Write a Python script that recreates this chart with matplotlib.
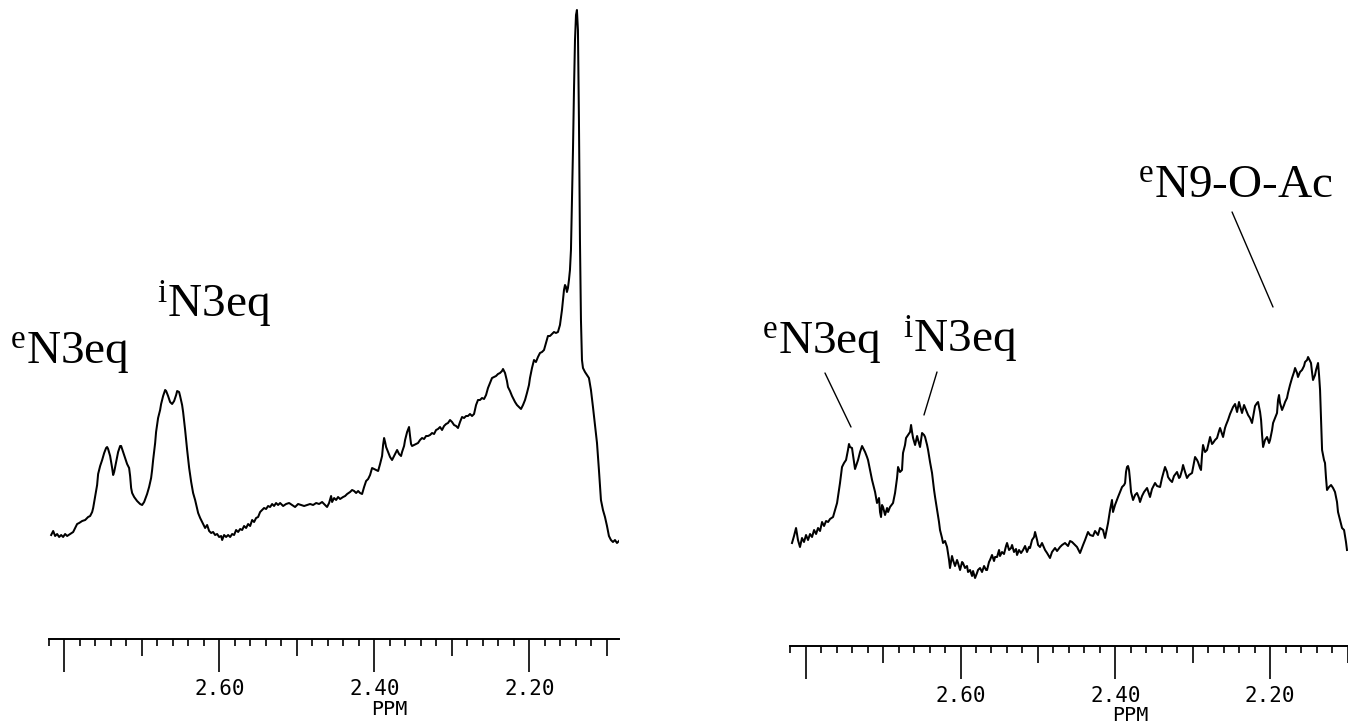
import matplotlib
matplotlib.use("Agg")
import matplotlib.pyplot as plt
from matplotlib.ticker import FixedLocator, FixedFormatter

plt.rcParams['mathtext.fontset'] = 'custom'
plt.rcParams['mathtext.rm'] = 'Liberation Serif'
plt.rcParams['mathtext.it'] = 'Liberation Serif:italic'
plt.rcParams['mathtext.bf'] = 'Liberation Serif:bold'
plt.rcParams['font.family'] = ['Liberation Serif', 'DejaVu Serif']

# ---------------- data: left spectrum (chemical shift ppm, intensity a.u.) ----------------
left_ppm = [
    2.8172, 2.8146, 2.8121, 2.8095, 2.8069, 2.8043, 2.8018, 2.7992, 2.7966, 2.7927,
    2.7888, 2.7863, 2.7837, 2.7811, 2.7772, 2.7733, 2.7695, 2.7669, 2.7643, 2.7630,
    2.7605, 2.7579, 2.7566, 2.7540, 2.7514, 2.7488, 2.7463, 2.7450, 2.7437, 2.7411,
    2.7385, 2.7372, 2.7359, 2.7334, 2.7308, 2.7282, 2.7269, 2.7243, 2.7217, 2.7192,
    2.7166, 2.7153, 2.7140, 2.7127, 2.7101, 2.7063, 2.7024, 2.6998, 2.6972, 2.6934,
    2.6908, 2.6882, 2.6869, 2.6856, 2.6830, 2.6818, 2.6792, 2.6766, 2.6753, 2.6727,
    2.6701, 2.6688, 2.6663, 2.6637, 2.6611, 2.6585, 2.6559, 2.6546, 2.6521, 2.6508,
    2.6482, 2.6469, 2.6443, 2.6417, 2.6391, 2.6365, 2.6340, 2.6314, 2.6288, 2.6275,
    2.6249, 2.6223, 2.6198, 2.6185, 2.6159, 2.6133, 2.6107, 2.6082, 2.6056, 2.6030,
    2.6004, 2.5978, 2.5965, 2.5940, 2.5914, 2.5888, 2.5862, 2.5836, 2.5811, 2.5785,
    2.5759, 2.5733, 2.5707, 2.5682, 2.5656, 2.5630, 2.5604, 2.5578, 2.5553, 2.5527,
    2.5501, 2.5475, 2.5449, 2.5424, 2.5398, 2.5372, 2.5346, 2.5320, 2.5295, 2.5269,
    2.5243, 2.5217, 2.5178, 2.5140, 2.5101, 2.5062, 2.5024, 2.4985, 2.4946, 2.4907,
    2.4869, 2.4830, 2.4791, 2.4752, 2.4714, 2.4675, 2.4636, 2.4611, 2.4585, 2.4559,
    2.4546, 2.4520, 2.4494, 2.4469, 2.4443, 2.4404, 2.4378, 2.4352, 2.4314, 2.4288,
    2.4262, 2.4236, 2.4210, 2.4185, 2.4159, 2.4133, 2.4107, 2.4081, 2.4056, 2.4030,
    2.4004, 2.3978, 2.3952, 2.3927, 2.3901, 2.3888, 2.3875, 2.3862, 2.3849, 2.3823,
    2.3798, 2.3772, 2.3746, 2.3720, 2.3707, 2.3682, 2.3656, 2.3643, 2.3617, 2.3604,
    2.3578, 2.3553, 2.3540, 2.3527, 2.3514, 2.3488, 2.3462, 2.3437, 2.3411, 2.3385,
    2.3359, 2.3333, 2.3308, 2.3282, 2.3256, 2.3230, 2.3204, 2.3179, 2.3153, 2.3127,
    2.3101, 2.3075, 2.3050, 2.3024, 2.2998, 2.2972, 2.2946, 2.2921, 2.2895, 2.2869,
    2.2843, 2.2817, 2.2792, 2.2766, 2.2740, 2.2714, 2.2688, 2.2663, 2.2637, 2.2611,
    2.2585, 2.2559, 2.2534, 2.2508, 2.2482, 2.2456, 2.2430, 2.2405, 2.2379, 2.2353,
    2.2340, 2.2314, 2.2289, 2.2276, 2.2250, 2.2224, 2.2211, 2.2185, 2.2160, 2.2134,
    2.2108, 2.2082, 2.2056, 2.2031, 2.2005, 2.1992, 2.1966, 2.1940, 2.1915, 2.1889,
    2.1863, 2.1837, 2.1811, 2.1786, 2.1760, 2.1734, 2.1708, 2.1682, 2.1657, 2.1631,
    2.1605, 2.1579, 2.1566, 2.1553, 2.1540, 2.1527, 2.1515, 2.1502, 2.1489, 2.1476,
    2.1463, 2.1450, 2.1437, 2.1424, 2.1411, 2.1398, 2.1386, 2.1373, 2.1360, 2.1347,
    2.1334, 2.1321, 2.1308, 2.1282, 2.1256, 2.1231, 2.1205, 2.1179, 2.1153, 2.1127,
    2.1102, 2.1076, 2.1050, 2.1024, 2.0998, 2.0973, 2.0947, 2.0921, 2.0895, 2.0869,
    2.0843,
]
left_int = [
    10, 14, 9, 11, 8, 10, 8, 11, 9, 11,
    13, 17, 21, 22, 24, 25, 28, 29, 33, 37,
    48, 60, 71, 79, 85, 92, 97, 98, 96, 89,
    77, 70, 73, 83, 93, 99, 99, 93, 87, 81,
    77, 69, 57, 52, 48, 44, 41, 40, 43, 51,
    58, 67, 75, 85, 102, 113, 127, 135, 141, 149,
    155, 154, 149, 143, 141, 144, 150, 154, 153, 149,
    140, 133, 115, 95, 77, 63, 52, 45, 36, 32,
    27, 23, 19, 17, 20, 14, 12, 13, 10, 11,
    8, 9, 5, 10, 8, 10, 8, 11, 10, 15,
    13, 16, 15, 19, 17, 21, 19, 25, 23, 27,
    28, 33, 35, 37, 36, 39, 38, 41, 39, 42,
    40, 42, 39, 41, 42, 40, 38, 41, 40, 39,
    40, 41, 40, 42, 41, 43, 40, 38, 42, 49,
    43, 47, 45, 48, 46, 48, 49, 51, 53, 55,
    54, 52, 54, 52, 51, 58, 64, 66, 70, 77,
    76, 75, 74, 81, 89, 100, 107, 103, 98, 93,
    88, 85, 89, 93, 95, 91, 89, 93, 99, 105,
    113, 118, 109, 101, 99, 100, 101, 102, 105, 107,
    106, 109, 109, 110, 112, 111, 115, 116, 118, 115,
    119, 121, 122, 125, 123, 120, 119, 117, 123, 128,
    127, 129, 129, 131, 129, 131, 140, 145, 145, 147,
    146, 150, 157, 162, 167, 168, 169, 171, 172, 174,
    176, 172, 164, 158, 154, 149, 147, 143, 140, 138,
    136, 140, 145, 152, 160, 167, 177, 185, 183, 188,
    192, 193, 195, 202, 209, 209, 211, 213, 212, 213,
    220, 235, 245, 255, 260, 258, 253, 257, 265, 275,
    295, 345, 395, 455, 505, 530, 535, 515, 425, 305,
    225, 185, 177, 173, 170, 167, 155, 138, 120, 102,
    75, 45, 35, 28, 19, 9, 5, 3, 5, 2,
    4,
]

# ---------------- data: right spectrum ----------------
right_ppm = [
    2.8177, 2.8151, 2.8125, 2.8100, 2.8074, 2.8048, 2.8022, 2.7996, 2.7970, 2.7944,
    2.7918, 2.7892, 2.7866, 2.7841, 2.7815, 2.7789, 2.7763, 2.7737, 2.7711, 2.7686,
    2.7647, 2.7621, 2.7595, 2.7570, 2.7557, 2.7531, 2.7505, 2.7479, 2.7454, 2.7441,
    2.7428, 2.7402, 2.7389, 2.7363, 2.7350, 2.7324, 2.7298, 2.7272, 2.7246, 2.7233,
    2.7208, 2.7195, 2.7169, 2.7143, 2.7117, 2.7104, 2.7079, 2.7053, 2.7040, 2.7027,
    2.7014, 2.7001, 2.6975, 2.6949, 2.6936, 2.6911, 2.6872, 2.6846, 2.6820, 2.6807,
    2.6782, 2.6756, 2.6743, 2.6717, 2.6704, 2.6678, 2.6652, 2.6639, 2.6626, 2.6613,
    2.6587, 2.6561, 2.6548, 2.6523, 2.6497, 2.6471, 2.6458, 2.6432, 2.6419, 2.6394,
    2.6368, 2.6342, 2.6329, 2.6303, 2.6278, 2.6265, 2.6239, 2.6226, 2.6200, 2.6174,
    2.6148, 2.6136, 2.6110, 2.6097, 2.6071, 2.6045, 2.6032, 2.6006, 2.5980, 2.5968,
    2.5942, 2.5916, 2.5903, 2.5877, 2.5851, 2.5838, 2.5812, 2.5787, 2.5774, 2.5748,
    2.5722, 2.5696, 2.5670, 2.5657, 2.5632, 2.5619, 2.5593, 2.5567, 2.5554, 2.5528,
    2.5502, 2.5490, 2.5464, 2.5438, 2.5412, 2.5399, 2.5373, 2.5347, 2.5334, 2.5309,
    2.5283, 2.5270, 2.5244, 2.5218, 2.5192, 2.5166, 2.5141, 2.5115, 2.5102, 2.5076,
    2.5050, 2.5037, 2.5011, 2.4998, 2.4973, 2.4947, 2.4908, 2.4882, 2.4844, 2.4818,
    2.4779, 2.4753, 2.4714, 2.4688, 2.4650, 2.4611, 2.4585, 2.4559, 2.4521, 2.4495,
    2.4456, 2.4417, 2.4391, 2.4353, 2.4327, 2.4288, 2.4262, 2.4224, 2.4198, 2.4159,
    2.4133, 2.4107, 2.4094, 2.4068, 2.4043, 2.4030, 2.4004, 2.3965, 2.3939, 2.3913,
    2.3887, 2.3874, 2.3862, 2.3849, 2.3836, 2.3823, 2.3810, 2.3797, 2.3771, 2.3745,
    2.3720, 2.3694, 2.3681, 2.3655, 2.3629, 2.3590, 2.3565, 2.3552, 2.3526, 2.3487,
    2.3461, 2.3422, 2.3397, 2.3358, 2.3332, 2.3319, 2.3293, 2.3267, 2.3242, 2.3203,
    2.3177, 2.3164, 2.3138, 2.3125, 2.3099, 2.3074, 2.3048, 2.3009, 2.2983, 2.2970,
    2.2944, 2.2932, 2.2906, 2.2893, 2.2880, 2.2867, 2.2841, 2.2815, 2.2789, 2.2776,
    2.2751, 2.2738, 2.2712, 2.2686, 2.2660, 2.2647, 2.2621, 2.2608, 2.2583, 2.2570,
    2.2544, 2.2518, 2.2479, 2.2453, 2.2427, 2.2402, 2.2389, 2.2363, 2.2337, 2.2311,
    2.2285, 2.2260, 2.2234, 2.2208, 2.2195, 2.2169, 2.2156, 2.2130, 2.2117, 2.2104,
    2.2091, 2.2066, 2.2040, 2.2014, 2.2001, 2.1975, 2.1962, 2.1936, 2.1911, 2.1898,
    2.1885, 2.1872, 2.1846, 2.1820, 2.1807, 2.1782, 2.1769, 2.1743, 2.1717, 2.1691,
    2.1678, 2.1652, 2.1640, 2.1614, 2.1588, 2.1562, 2.1549, 2.1523, 2.1510, 2.1484,
    2.1472, 2.1459, 2.1446, 2.1420, 2.1407, 2.1381, 2.1368, 2.1355, 2.1342, 2.1329,
    2.1304, 2.1291, 2.1278, 2.1265, 2.1239, 2.1213, 2.1187, 2.1162, 2.1136, 2.1123,
    2.1097, 2.1071, 2.1045, 2.1020, 2.1007,
]
right_int = [
    37, 44, 52, 40, 33, 42, 38, 45, 40, 46,
    43, 50, 46, 52, 49, 58, 54, 59, 58, 61,
    63, 70, 77, 90, 97, 113, 117, 120, 130, 136,
    133, 132, 125, 111, 114, 120, 128, 134, 130, 128,
    123, 120, 110, 100, 92, 88, 77, 82, 68, 63,
    75, 73, 65, 72, 68, 73, 77, 87, 102, 113,
    108, 110, 127, 135, 142, 145, 148, 155, 148, 142,
    135, 144, 140, 133, 147, 145, 143, 135, 130, 118,
    107, 90, 83, 70, 58, 50, 42, 37, 39, 33,
    20, 12, 24, 20, 14, 20, 17, 10, 18, 17,
    12, 14, 8, 10, 4, 9, 2, 7, 10, 12,
    8, 14, 10, 10, 18, 20, 25, 19, 23, 23,
    30, 24, 28, 26, 34, 37, 30, 32, 35, 28,
    31, 25, 30, 27, 30, 34, 28, 33, 32, 40,
    43, 48, 40, 35, 33, 37, 30, 27, 22, 28,
    32, 29, 33, 35, 37, 34, 39, 38, 35, 33,
    27, 35, 40, 48, 45, 44, 49, 45, 52, 50,
    42, 52, 57, 70, 80, 68, 75, 83, 88, 93,
    95, 97, 108, 113, 114, 110, 100, 88, 80, 85,
    87, 82, 78, 84, 88, 92, 86, 83, 91, 97,
    94, 93, 102, 113, 108, 103, 100, 98, 104, 108,
    102, 103, 110, 115, 108, 102, 105, 107, 118, 123,
    120, 118, 112, 110, 125, 135, 128, 130, 139, 143,
    136, 137, 140, 142, 149, 152, 146, 143, 152, 155,
    160, 166, 173, 176, 168, 178, 174, 167, 175, 170,
    165, 162, 157, 168, 174, 177, 178, 168, 160, 145,
    133, 140, 143, 137, 140, 150, 157, 162, 167, 180,
    185, 177, 170, 175, 178, 182, 187, 195, 202, 208,
    212, 207, 203, 208, 210, 214, 218, 220, 223, 219,
    217, 208, 200, 205, 210, 217, 205, 190, 160, 130,
    120, 117, 102, 90, 93, 95, 92, 88, 78, 68,
    60, 52, 50, 38, 30,
]

# ---------------- axis ticks ----------------
major_ticks = [2.80, 2.60, 2.40, 2.20]
major_labels = ['', '2.60', '2.40', '2.20']
medium_ticks = [2.70, 2.50, 2.30, 2.10]
minor_ticks = [2.82, 2.78, 2.76, 2.74, 2.72, 2.68, 2.66, 2.64, 2.62,
               2.58, 2.56, 2.54, 2.52, 2.48, 2.46, 2.44, 2.42,
               2.38, 2.36, 2.34, 2.32, 2.28, 2.26, 2.24, 2.22,
               2.18, 2.16, 2.14, 2.12]

# ---------------- annotations ----------------
left_labels = [(r'$^{\mathrm{e}}$N3eq', 2.8703, 182),
               (r'$^{\mathrm{i}}$N3eq', 2.6806, 227)]
right_labels = [(r'$^{\mathrm{e}}$N3eq', 2.8565, 227),
                (r'$^{\mathrm{i}}$N3eq', 2.6743, 227),
                (r'$^{\mathrm{e}}$N9-O-Ac', 2.3707, 383)]
right_leaders = [((2.7751, 207), (2.7415, 153)),
                 ((2.6304, 208), (2.6472, 165)),
                 ((2.2492, 368), (2.1963, 273))]

W, H = 1348, 725
fig = plt.figure(figsize=(W / 100, H / 100), dpi=100)


def make_axes(rect, xlim, ylim, ppm, inten, xlabel_pos):
    ax = fig.add_axes(rect)
    ax.plot(ppm, inten, color='black', lw=1.45, solid_joinstyle='round')
    ax.set_xlim(*xlim)
    ax.set_ylim(*ylim)
    for s in ('top', 'left', 'right'):
        ax.spines[s].set_visible(False)
    ax.spines['bottom'].set_linewidth(1.4)
    ax.set_yticks([])
    ax.xaxis.set_major_locator(FixedLocator(major_ticks))
    ax.xaxis.set_major_formatter(FixedFormatter(major_labels))
    ax.xaxis.set_minor_locator(FixedLocator(minor_ticks))
    ax.tick_params(axis='x', which='major', length=23.8, width=1.2,
                   direction='out', pad=5, labelsize=15,
                   labelfontfamily='DejaVu Sans Mono')
    ax.tick_params(axis='x', which='minor', length=4.7, width=1.2,
                   direction='out')
    sec = ax.secondary_xaxis(0)
    sec.set_xticks(medium_ticks)
    sec.set_xticklabels([''] * len(medium_ticks))
    sec.tick_params(axis='x', which='major', length=12.2, width=1.2,
                    direction='out')
    for s in sec.spines.values():
        s.set_visible(False)
    ax.set_xlabel('PPM', fontfamily='DejaVu Sans Mono', fontsize=14.5)
    ax.xaxis.set_label_coords(*xlabel_pos)
    return ax


axL = make_axes([49 / W, (H - 639) / H, 570 / W, 639 / H],
                (2.82, 2.0843), (-94, 545), left_ppm, left_int,
                (0.5965, -0.0955))
axR = make_axes([790 / W, (H - 646) / H, 558 / W, 646 / H],
                (2.8203, 2.0994), (-66, 580), right_ppm, right_int,
                (0.609, -0.0935))

for txt, x, y in left_labels:
    axL.text(x, y, txt, fontsize=34, ha='left', va='baseline', clip_on=False)
for txt, x, y in right_labels:
    axR.text(x, y, txt, fontsize=34, ha='left', va='baseline', clip_on=False)
for (p0, p1) in right_leaders:
    axR.annotate('', xy=p1, xytext=p0,
                 arrowprops=dict(arrowstyle='-', lw=1.0, color='black',
                                 shrinkA=0, shrinkB=0))

fig.savefig('out.png', dpi=100, facecolor='white')
